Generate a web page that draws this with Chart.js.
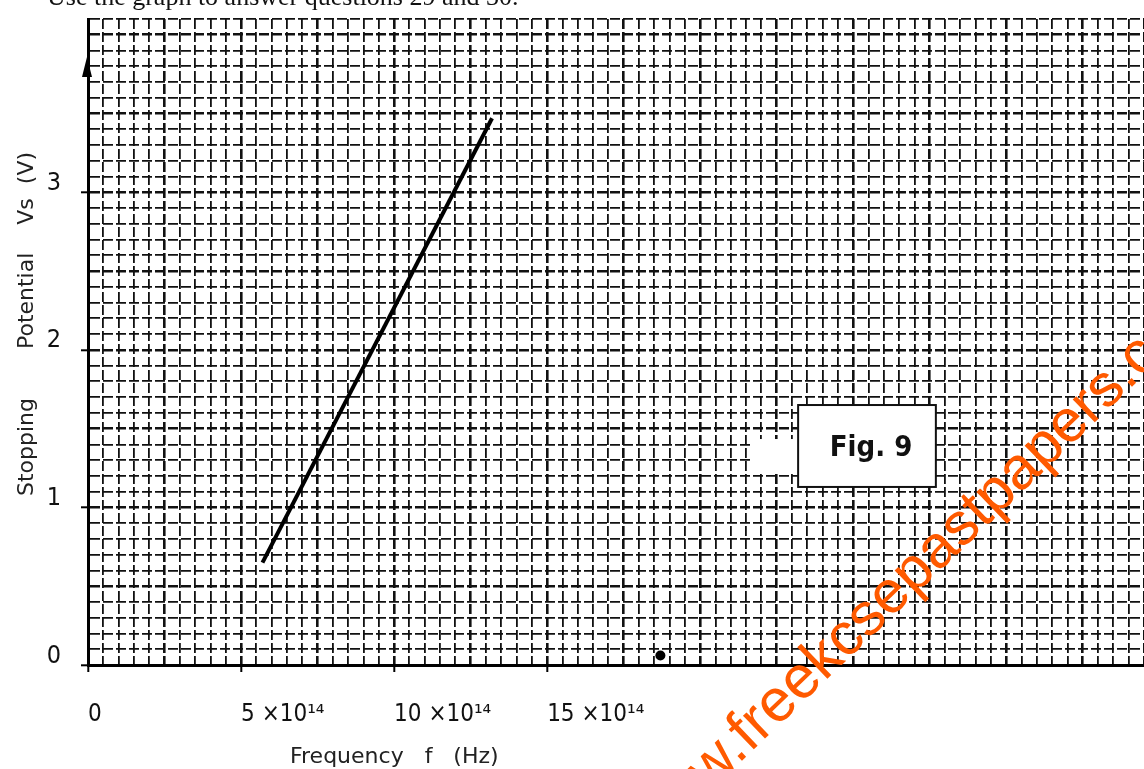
<!DOCTYPE html>
<html>
<head>
<meta charset="utf-8">
<script src="https://cdn.jsdelivr.net/npm/chart.js@4.4.1/dist/chart.umd.min.js"></script>
<style>
  html, body { margin: 0; padding: 0; background: #fff; }
</style>
</head>
<body>
<canvas id="graph" width="1144" height="769"></canvas>
<script>
// frequency in units of 10^14 Hz, stopping potential in volts
const freq = [5.7, 13.2];
const stopV = [0.65, 3.47];
// stray ink blob sitting on the frequency axis
const blobFreq = [18.7];
const blobV = [0.06];

const xTickValues = [0, 5, 10, 15];
const xTickText = ['0', '5 ×10¹⁴', '10 ×10¹⁴', '15 ×10¹⁴'];
const yTickValues = [0, 1, 2, 3];

const xTitle = 'Frequency   f   (Hz)';
const yTitle = 'Stopping       Potential    Vs  (V)';
const figText = 'Fig. 9';
const caption = 'Use the graph to answer questions 29 and 30.';
const watermark = 'www.freekcsepastpapers.com';

const tickFont = "'Liberation Sans Narrow', 'DejaVu Sans Condensed', sans-serif";

function near(v, list) {
  return list.some(t => Math.abs(t - v) < 1e-6);
}
function onStep(v, step) {
  return Math.abs(v / step - Math.round(v / step)) < 1e-6;
}

const paper = {
  id: 'paper',
  afterDraw(chart) {
    const ctx = chart.ctx;
    const a = chart.chartArea;
    const xs = chart.scales.x, ys = chart.scales.y;

    // arrow head on the potential axis
    ctx.save();
    ctx.fillStyle = '#000';
    ctx.beginPath();
    ctx.moveTo(a.left - 1, 57);
    ctx.lineTo(a.left - 6, 77);
    ctx.lineTo(a.left + 4, 77);
    ctx.closePath();
    ctx.fill();
    ctx.restore();

    // "Fig. 9" label box
    const bx0 = xs.getPixelForValue(23.2), bx1 = xs.getPixelForValue(27.7);
    const by0 = ys.getPixelForValue(1.65), by1 = ys.getPixelForValue(1.13);
    ctx.save();
    ctx.fillStyle = '#fff';
    ctx.fillRect(bx0 - 46, by0 + 34, 50, 32);
    ctx.fillRect(bx0, by0, bx1 - bx0, by1 - by0);
    ctx.strokeStyle = '#111';
    ctx.lineWidth = 2;
    ctx.strokeRect(bx0, by0, bx1 - bx0, by1 - by0);
    ctx.fillStyle = '#111';
    ctx.font = "bold 29px 'DejaVu Sans Condensed', 'DejaVu Sans', sans-serif";
    ctx.textAlign = 'center';
    ctx.textBaseline = 'middle';
    ctx.fillText(figText, (bx0 + bx1) / 2 + 4, (by0 + by1) / 2 + 2);
    ctx.restore();

    // axis titles
    ctx.save();
    ctx.fillStyle = '#222';
    ctx.font = "22px 'DejaVu Sans', sans-serif";
    ctx.textAlign = 'left';
    ctx.textBaseline = 'alphabetic';
    ctx.fillText(xTitle, 290, 763);
    ctx.translate(33, 324);
    ctx.rotate(-Math.PI / 2);
    ctx.textAlign = 'center';
    ctx.fillText(yTitle, 0, 0);
    ctx.restore();

    // question line, cut off by the top of the page
    ctx.save();
    ctx.fillStyle = '#111';
    ctx.font = "26px 'Liberation Serif', serif";
    ctx.textBaseline = 'alphabetic';
    ctx.fillText(caption, 47, 5);
    ctx.restore();

    // site watermark
    ctx.save();
    ctx.translate(750, 753);
    ctx.rotate(-43.8 * Math.PI / 180);
    ctx.font = "60px 'Liberation Sans', Arial, sans-serif";
    ctx.fillStyle = '#ff5a00';
    const pre = ctx.measureText('www.').width;
    ctx.fillText(watermark, -pre, 0);
    ctx.restore();
  }
};

new Chart(document.getElementById('graph'), {
  type: 'scatter',
  data: {
    datasets: [
      {
        data: freq.map((f, i) => ({ x: f, y: stopV[i] })),
        showLine: true,
        borderColor: '#000',
        borderWidth: 4,
        pointRadius: 0,
        fill: false
      },
      {
        data: blobFreq.map((f, i) => ({ x: f, y: blobV[i] })),
        pointRadius: 5,
        backgroundColor: '#000',
        borderWidth: 0
      }
    ]
  },
  options: {
    responsive: false,
    animation: false,
    events: [],
    layout: { autoPadding: false, padding: { top: 19, right: 0, bottom: 0, left: 0 } },
    plugins: { legend: { display: false }, tooltip: { enabled: false } },
    scales: {
      x: {
        type: 'linear',
        min: 0,
        max: 34.5,
        afterFit(s) { s.height = 104; s.paddingLeft = 0; s.paddingRight = 0; },
        ticks: {
          stepSize: 0.5,
          autoSkip: false,
          maxRotation: 0,
          minRotation: 0,
          align: 'start',
          padding: 28,
          color: '#111',
          font: { family: tickFont, size: 24 },
          callback: v => {
            const i = xTickValues.findIndex(t => Math.abs(t - v) < 1e-6);
            return i < 0 ? '' : xTickText[i];
          }
        },
        grid: {
          color: '#111',
          lineWidth: c => (c.tick && onStep(c.tick.value, 2.5)) ? 2.6 : 1.8,
          tickLength: 7,
          tickWidth: 2,
          tickColor: c => (c.tick && near(c.tick.value, xTickValues)) ? '#000' : 'rgba(0,0,0,0)'
        },
        border: { display: true, color: '#000', width: 3, dash: [10, 3] }
      },
      y: {
        type: 'linear',
        min: 0,
        max: 4.1,
        afterFit(s) { s.width = 88; s.paddingTop = 0; s.paddingBottom = 0; },
        ticks: {
          stepSize: 0.1,
          autoSkip: false,
          padding: 20,
          labelOffset: -9,
          color: '#111',
          font: { family: tickFont, size: 25 },
          callback: v => near(v, yTickValues) ? String(Math.round(v)) : ''
        },
        grid: {
          color: '#111',
          lineWidth: c => (c.tick && onStep(c.tick.value, 0.5)) ? 2.6 : 1.8,
          tickLength: 7,
          tickWidth: 2,
          tickColor: c => (c.tick && near(c.tick.value, yTickValues)) ? '#000' : 'rgba(0,0,0,0)'
        },
        border: { display: true, color: '#000', width: 3, dash: [10, 3] }
      }
    }
  },
  plugins: [paper]
});
</script>
</body>
</html>
